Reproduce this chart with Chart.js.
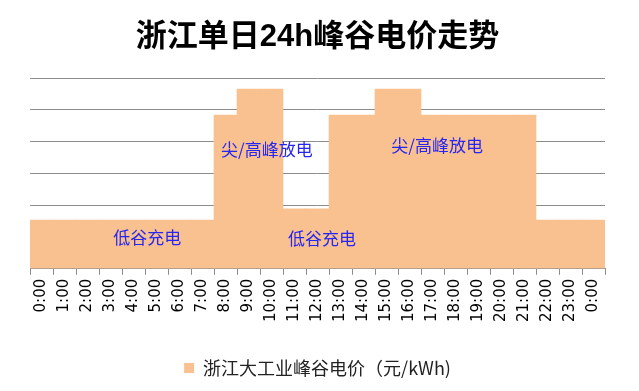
<!DOCTYPE html>
<html>
<head>
<meta charset="utf-8">
<script src="https://cdn.jsdelivr.net/npm/chart.js@4"></script>
<style>
  html, body { margin: 0; padding: 0; background: #fff; }
  #wrap { width: 639px; height: 391px; }
</style>
</head>
<body>
<div id="wrap"><canvas id="priceChart"></canvas></div>
<script>
// 时段
const hours = ['0:00', '1:00', '2:00', '3:00', '4:00', '5:00', '6:00', '7:00', '8:00', '9:00',
    '10:00', '11:00', '12:00', '13:00', '14:00', '15:00', '16:00', '17:00', '18:00', '19:00',
    '20:00', '21:00', '22:00', '23:00', '0:00'];
// 电价 元/kWh
const prices = [0.307, 0.307, 0.307, 0.307, 0.307, 0.307, 0.307, 0.307,
    0.967, 1.132, 1.132, 0.378, 0.378, 0.967, 0.967, 1.132, 1.132,
    0.967, 0.967, 0.967, 0.967, 0.967, 0.307, 0.307, 0.307];
// 图中文字标注：位置用类别序号和电价值
const noteTexts = ['低谷充电', '尖/高峰放电', '低谷充电', '尖/高峰放电'];
const noteIdx = [4.6, 9.8, 12.2, 17.2];
const noteVal = [0.194, 0.751, 0.19, 0.776];

const notesPlugin = {
    id: 'notes',
    afterDatasetsDraw(chart) {
        const ctx = chart.ctx;
        const xs = chart.scales.x, ys = chart.scales.y;
        ctx.save();
        ctx.font = '17px "Noto Sans CJK SC", sans-serif';
        ctx.fillStyle = '#2626f0';
        ctx.textAlign = 'center';
        ctx.textBaseline = 'middle';
        noteTexts.forEach((t, i) => {
            ctx.fillText(t, xs.getPixelForValue(noteIdx[i]), ys.getPixelForValue(noteVal[i]));
        });
        ctx.restore();
    }
};

const ctx = document.getElementById('priceChart').getContext('2d');
new Chart(ctx, {
    type: 'bar',
    data: {
        labels: hours,
        datasets: [{
            label: '浙江大工业峰谷电价（元/kWh)',
            data: prices,
            backgroundColor: '#f9c190',
            borderWidth: 0,
            categoryPercentage: 1.0,
            barPercentage: 1.0
        }]
    },
    options: {
        responsive: true,
        maintainAspectRatio: false,
        animation: false,
        layout: { padding: { left: 30, right: 34, top: 0, bottom: 4 } },
        plugins: {
            title: {
                display: true,
                text: '浙江单日24h峰谷电价走势',
                color: '#000',
                font: { family: '"Liberation Sans", "Noto Sans CJK SC", sans-serif', size: 31, weight: 'bold' },
                padding: { top: 19, bottom: 22 }
            },
            legend: {
                position: 'bottom',
                labels: {
                    color: '#222',
                    boxWidth: 10,
                    boxHeight: 10,
                    padding: 10,
                    font: { family: '"Noto Sans CJK SC", sans-serif', size: 18 }
                }
            },
            tooltip: { enabled: false }
        },
        scales: {
            x: {
                grid: { drawOnChartArea: false, drawTicks: true, tickLength: 6, color: '#8c8c8c' },
                border: { color: '#8c8c8c' },
                ticks: {
                    color: '#000',
                    minRotation: 90,
                    maxRotation: 90,
                    autoSkip: false,
                    padding: 4,
                    font: { family: '"DejaVu Sans", sans-serif', size: 15 }
                },
                afterFit(scale) {
                    // 标签和图例之间留白
                    scale.height += 23;
                }
            },
            y: {
                min: 0,
                max: 1.2,
                ticks: { display: false, stepSize: 0.2 },
                grid: { color: '#8c8c8c', drawTicks: false },
                border: { display: false }
            }
        }
    },
    plugins: [notesPlugin]
});
</script>
</body>
</html>
